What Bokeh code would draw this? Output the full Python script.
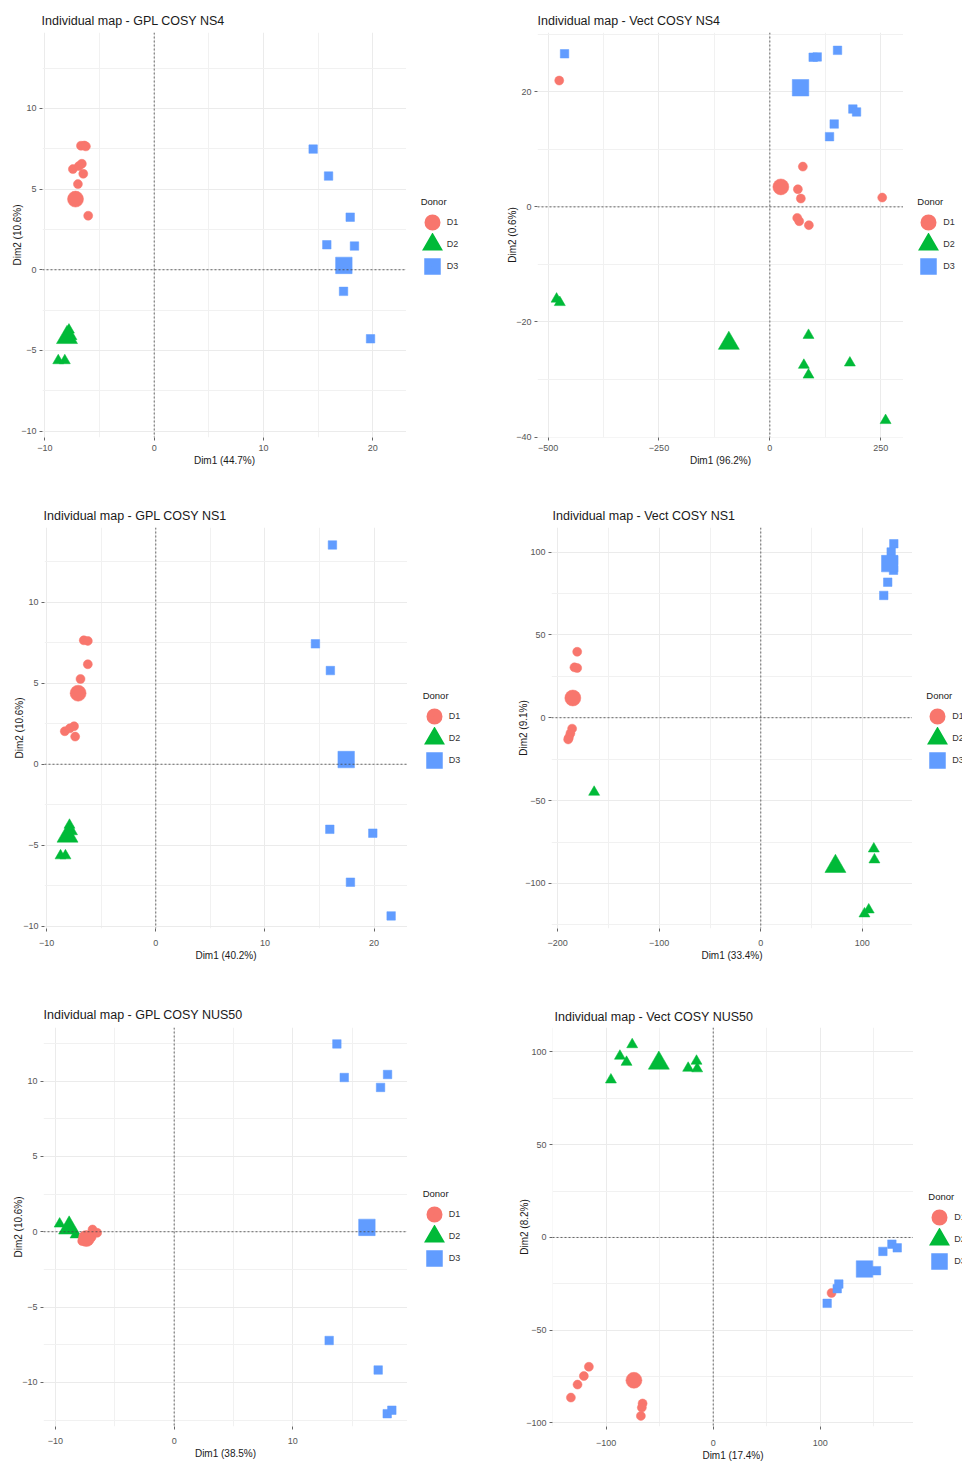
from bokeh.plotting import figure
from bokeh.models import Range1d, FixedTicker, Span, Legend, LegendItem
from bokeh.layouts import row, column
from bokeh.embed import file_html
from bokeh.resources import INLINE

FONT = "Liberation Sans"
D1_COLOR = "#F8766D"
D2_COLOR = "#00BA38"
D3_COLOR = "#619CFF"

# ---------------- GPL COSY NS4 ----------------
gpl_ns4_d1_x = [-6.7, -6.4, -6.25, -7.44, -6.89, -6.62, -6.49, -6.98, -6.04]
gpl_ns4_d1_y = [7.69, 7.70, 7.65, 6.24, 6.43, 6.57, 5.95, 5.31, 3.35]
gpl_ns4_d1_mean = (-7.2, 4.38)
gpl_ns4_d2_x = [-7.8, -7.57, -8.78, -8.18]
gpl_ns4_d2_y = [-3.73, -4.14, -5.63, -5.63]
gpl_ns4_d2_mean = (-7.98, -4.2)
gpl_ns4_d3_x = [14.54, 15.95, 17.93, 15.79, 18.32, 17.32, 19.79]
gpl_ns4_d3_y = [7.48, 5.81, 3.26, 1.55, 1.47, -1.34, -4.28]
gpl_ns4_d3_mean = (17.35, 0.27)

# ---------------- Vect COSY NS4 ----------------
vect_ns4_d1_x = [-475.0, 74.4, 63.2, 69.9, 253.4, 61.7, 66.2, 88.0]
vect_ns4_d1_y = [21.95, 7.0, 3.07, 1.45, 1.62, -1.91, -2.49, -3.18]
vect_ns4_d1_mean = (24.8, 3.47)
vect_ns4_d2_x = [-481.0, -473.7, 87.2, 76.7, 87.2, 180.5, 261.0]
vect_ns4_d2_y = [-16.0, -16.6, -22.3, -27.5, -29.2, -27.1, -37.1]
vect_ns4_d2_mean = (-92.5, -23.7)
vect_ns4_d3_x = [-463.0, 97.7, 106.8, 152.6, 187.2, 195.5, 145.1, 134.6]
vect_ns4_d3_y = [26.6, 26.0, 26.06, 27.2, 17.0, 16.5, 14.4, 12.2]
vect_ns4_d3_mean = (69.2, 20.7)

# ---------------- GPL COSY NS1 ----------------
gpl_ns1_d1_x = [-6.6, -6.23, -6.23, -6.9, -8.34, -7.88, -7.49, -7.39]
gpl_ns1_d1_y = [7.66, 7.62, 6.18, 5.27, 2.04, 2.22, 2.35, 1.71]
gpl_ns1_d1_mean = (-7.12, 4.39)
gpl_ns1_d2_x = [-7.91, -7.68, -8.73, -8.28]
gpl_ns1_d2_y = [-3.76, -4.16, -5.65, -5.65]
gpl_ns1_d2_mean = (-8.09, -4.44)
gpl_ns1_d3_x = [16.19, 14.63, 16.0, 15.95, 19.89, 17.84, 21.57]
gpl_ns1_d3_y = [13.55, 7.44, 5.79, -4.02, -4.26, -7.29, -9.37]
gpl_ns1_d3_mean = (17.45, 0.29)

# ---------------- Vect COSY NS1 ----------------
vect_ns1_d1_x = [-180.8, -183.5, -180.8, -185.8, -187.5, -189.0, -189.7]
vect_ns1_d1_y = [39.8, 30.4, 30.0, -6.6, -9.5, -12.0, -13.1]
vect_ns1_d1_mean = (-185.1, 11.9)
vect_ns1_d2_x = [-164.1, 111.3, 111.9, 106.3, 102.1]
vect_ns1_d2_y = [-44.9, -79.1, -85.7, -115.9, -118.3]
vect_ns1_d2_mean = (73.5, -89.7)
vect_ns1_d3_x = [131.0, 128.4, 130.7, 130.7, 125.0, 121.1]
vect_ns1_d3_y = [105.0, 100.0, 95.0, 89.0, 81.8, 73.8]
vect_ns1_d3_mean = (127.0, 93.0)

# ---------------- GPL COSY NUS50 ----------------
gpl_nus50_d1_x = [-7.75, -7.3, -6.95, -6.88, -6.49, -7.6]
gpl_nus50_d1_y = [-0.62, -0.55, -0.35, 0.15, -0.07, -0.3]
gpl_nus50_d1_mean = (-7.4, -0.45)
gpl_nus50_d2_x = [-9.65, -9.16, -8.31]
gpl_nus50_d2_y = [0.52, 0.11, -0.2]
gpl_nus50_d2_mean = (-8.85, 0.25)
gpl_nus50_d3_x = [13.71, 14.33, 17.98, 17.39, 13.06, 17.19, 17.95, 18.34]
gpl_nus50_d3_y = [12.47, 10.24, 10.44, 9.58, -7.22, -9.18, -12.08, -11.85]
gpl_nus50_d3_mean = (16.24, 0.29)

# ---------------- Vect COSY NUS50 ----------------
vect_nus50_d1_x = [-133.0, -126.8, -120.9, -116.2, -66.0, -66.7, -67.6, 110.6]
vect_nus50_d1_y = [-86.3, -79.3, -74.7, -69.7, -89.5, -91.7, -96.2, -29.9]
vect_nus50_d1_mean = (-74.1, -77.0)
vect_nus50_d2_x = [-75.7, -87.2, -81.0, -95.6, -23.4, -15.6, -15.0]
vect_nus50_d2_y = [104.0, 97.8, 94.5, 85.0, 91.3, 95.1, 91.0]
vect_nus50_d2_mean = (-50.8, 94.0)
vect_nus50_d3_x = [106.5, 115.9, 117.4, 152.6, 158.6, 167.0, 172.0]
vect_nus50_d3_y = [-35.5, -27.6, -25.1, -17.9, -7.5, -3.6, -5.6]
vect_nus50_d3_mean = (141.4, -17.0)

# ---------------- axis ticks ----------------
gpl_x_ticks = [-10, 0, 10, 20]
gpl_x_minor = [-5, 5, 15]
gpl_y_ticks = [-10, -5, 0, 5, 10]
gpl_y_minor = [-7.5, -2.5, 2.5, 7.5, 12.5]
vect_ns4_x_ticks = [-500, -250, 0, 250]
vect_ns4_x_minor = [-375, -125, 125]
vect_ns4_y_ticks = [-40, -20, 0, 20]
vect_ns4_y_minor = [-30, -10, 10, 30]
vect_ns1_x_ticks = [-200, -100, 0, 100]
vect_ns1_x_minor = [-150, -50, 50]
vect_ns1_y_ticks = [-100, -50, 0, 50, 100]
vect_ns1_y_minor = [-125, -75, -25, 25, 75]
nus50_x_ticks = [-10, 0, 10]
nus50_x_minor = [-5, 5, 15]
nus50_y_ticks = [-10, -5, 0, 5, 10]
nus50_y_minor = [-12.5, -7.5, -2.5, 2.5, 7.5, 12.5]
vect_nus50_x_ticks = [-100, 0, 100]
vect_nus50_x_minor = [-150, -50, 50, 150]
vect_nus50_y_ticks = [-100, -50, 0, 50, 100]
vect_nus50_y_minor = [-75, -25, 25, 75]

donor_labels = ["D1", "D2", "D3"]

# marker style per donor: (colour, marker, individual size, centroid size, legend stroke)
STYLE = {
    "D1": (D1_COLOR, "circle", 9, 16, 7.2),
    "D2": (D2_COLOR, "triangle", 11, 21, 7.0),
    "D3": (D3_COLOR, "square", 8.5, 16.5, 7.7),
}
DRAW_ORDER = ["D2", "D1", "D3"]


def make_panel(title, xlab, ylab, xr, yr, xt, xm, yt, ym, groups, means,
               width, height, border, legend_width, title_off, title_standoff,
               x_lab_standoff, x_title_standoff, y_title_standoff, legend_loc):
    left, top, bottom = border
    p = figure(width=width, height=height, x_range=Range1d(*xr), y_range=Range1d(*yr),
               output_backend="svg", toolbar_location=None, tools="",
               min_border_left=left, min_border_right=0,
               min_border_top=top, min_border_bottom=bottom,
               background_fill_color="white", border_fill_color="white",
               outline_line_color=None)
    p.title.text = title
    p.title.text_font = FONT
    p.title.text_font_size = "12.5px"
    p.title.text_font_style = "normal"
    p.title.text_color = "#1a1a1a"
    p.title.offset = title_off
    p.title.standoff = title_standoff

    xtk = FixedTicker(ticks=xt, minor_ticks=xm)
    ytk = FixedTicker(ticks=yt, minor_ticks=ym)
    p.xaxis.ticker = xtk
    p.yaxis.ticker = ytk
    p.xgrid.ticker = xtk
    p.ygrid.ticker = ytk
    for g in (p.xgrid[0], p.ygrid[0]):
        g.grid_line_color = "#ebebeb"
        g.grid_line_width = 1
        g.minor_grid_line_color = "#f1f1f1"
        g.minor_grid_line_width = 1

    for ax in (p.xaxis[0], p.yaxis[0]):
        ax.axis_line_color = None
        ax.major_tick_line_color = "#666666"
        ax.major_tick_out = 3
        ax.major_tick_in = 0
        ax.minor_tick_line_color = None
        ax.major_label_text_font = FONT
        ax.major_label_text_font_size = "9px"
        ax.major_label_text_color = "#555555"
        ax.axis_label_text_font = FONT
        ax.axis_label_text_font_size = "10px"
        ax.axis_label_text_font_style = "normal"
        ax.axis_label_text_color = "#1a1a1a"
    p.xaxis.axis_label = xlab
    p.yaxis.axis_label = ylab
    p.xaxis.major_label_standoff = x_lab_standoff
    p.yaxis.major_label_standoff = 2
    p.xaxis.axis_label_standoff = x_title_standoff
    p.yaxis.axis_label_standoff = y_title_standoff

    # reference lines through the origin
    for dim in ("width", "height"):
        p.add_layout(Span(location=0, dimension=dim, line_color="#444444",
                          line_width=0.8, line_dash="2 2"))

    for key in DRAW_ORDER:
        color, marker, small, big, _ = STYLE[key]
        xs, ys = groups[key]
        mx, my = means[key]
        p.scatter(xs, ys, marker=marker, size=small, fill_color=color,
                  line_color=color, line_width=0.5)
        p.scatter([mx], [my], marker=marker, size=big, fill_color=color,
                  line_color=color, line_width=0.5)

    # side strip carrying the "Donor" key
    side = figure(width=legend_width, height=height, output_backend="svg",
                  toolbar_location=None, tools="",
                  x_axis_location=None, y_axis_location=None,
                  min_border_left=0, min_border_right=0,
                  min_border_top=0, min_border_bottom=0,
                  background_fill_color="white", border_fill_color="white",
                  outline_line_color=None)
    side.grid.visible = False
    key_renderers = {}
    for key in donor_labels:
        color, marker, small, _, stroke = STYLE[key]
        xs, ys = groups[key]
        # hidden copy whose thick stroke gives the legend keys their size
        key_renderers[key] = side.scatter(xs, ys, marker=marker, size=small,
                                          fill_color=color, line_color=color,
                                          line_width=stroke, line_join="miter",
                                          visible=False)
    legend = Legend(
        items=[LegendItem(label=k, renderers=[key_renderers[k]]) for k in donor_labels],
        location=legend_loc, title="Donor",
        title_text_font=FONT, title_text_font_size="9.5px",
        title_text_font_style="normal", title_text_color="#1a1a1a",
        title_standoff=4,
        label_text_font=FONT, label_text_font_size="9px", label_text_color="#333333",
        glyph_width=22, glyph_height=22, label_height=22, label_standoff=4,
        spacing=0, padding=0, margin=0,
        background_fill_alpha=0, border_line_color=None,
    )
    side.add_layout(legend, "center")
    return p, side


def groups_of(d1x, d1y, d2x, d2y, d3x, d3y):
    return {"D1": (d1x, d1y), "D2": (d2x, d2y), "D3": (d3x, d3y)}


p1, s1 = make_panel(
    "Individual map - GPL COSY NS4", "Dim1 (44.7%)", "Dim2 (10.6%)",
    (-10.22, 23.08), (-10.4, 14.71), gpl_x_ticks, gpl_x_minor, gpl_y_ticks, gpl_y_minor,
    groups_of(gpl_ns4_d1_x, gpl_ns4_d1_y, gpl_ns4_d2_x, gpl_ns4_d2_y, gpl_ns4_d3_x, gpl_ns4_d3_y),
    {"D1": gpl_ns4_d1_mean, "D2": gpl_ns4_d2_mean, "D3": gpl_ns4_d3_mean},
    406, 490, (42, 32, 53), 75, -1, 9, 3, 1, -5, (14.7, 159.8))

p2, s2 = make_panel(
    "Individual map - Vect COSY NS4", "Dim1 (96.2%)", "Dim2 (0.6%)",
    (-524.0, 301.4), (-40.07, 30.3), vect_ns4_x_ticks, vect_ns4_x_minor,
    vect_ns4_y_ticks, vect_ns4_y_minor,
    groups_of(vect_ns4_d1_x, vect_ns4_d1_y, vect_ns4_d2_x, vect_ns4_d2_y, vect_ns4_d3_x, vect_ns4_d3_y),
    {"D1": vect_ns4_d1_mean, "D2": vect_ns4_d2_mean, "D3": vect_ns4_d3_mean},
    422, 490, (56, 32, 53), 59, 0, 9, 3, 1, -5, (14.3, 160.5))

p3, s3 = make_panel(
    "Individual map - GPL COSY NS1", "Dim1 (40.2%)", "Dim2 (10.6%)",
    (-10.2, 23.07), (-10.15, 14.63), gpl_x_ticks, gpl_x_minor, gpl_y_ticks, gpl_y_minor,
    groups_of(gpl_ns1_d1_x, gpl_ns1_d1_y, gpl_ns1_d2_x, gpl_ns1_d2_y, gpl_ns1_d3_x, gpl_ns1_d3_y),
    {"D1": gpl_ns1_d1_mean, "D2": gpl_ns1_d2_mean, "D3": gpl_ns1_d3_mean},
    407, 500, (44, 37, 62), 74, -1, 10, 7, 1, -5, (15.7, 156.8))

p4, s4 = make_panel(
    "Individual map - Vect COSY NS1", "Dim1 (33.4%)", "Dim2 (9.1%)",
    (-206.1, 149.4), (-127.2, 114.8), vect_ns1_x_ticks, vect_ns1_x_minor,
    vect_ns1_y_ticks, vect_ns1_y_minor,
    groups_of(vect_ns1_d1_x, vect_ns1_d1_y, vect_ns1_d2_x, vect_ns1_d2_y, vect_ns1_d3_x, vect_ns1_d3_y),
    {"D1": vect_ns1_d1_mean, "D2": vect_ns1_d2_mean, "D3": vect_ns1_d3_mean},
    431, 500, (70, 37, 62), 50, 1, 10, 7, 1, -7, (14.3, 156.8))

p5, s5 = make_panel(
    "Individual map - GPL COSY NUS50", "Dim1 (38.5%)", "Dim2 (10.6%)",
    (-11.01, 19.66), (-12.93, 13.56), nus50_x_ticks, nus50_x_minor, nus50_y_ticks, nus50_y_minor,
    groups_of(gpl_nus50_d1_x, gpl_nus50_d1_y, gpl_nus50_d2_x, gpl_nus50_d2_y,
              gpl_nus50_d3_x, gpl_nus50_d3_y),
    {"D1": gpl_nus50_d1_mean, "D2": gpl_nus50_d2_mean, "D3": gpl_nus50_d3_mean},
    407, 473, (43, 37, 36), 74, 0, 12, 7, 1, -5, (15.7, 157.2))

p6, s6 = make_panel(
    "Individual map - Vect COSY NUS50", "Dim1 (17.4%)", "Dim2 (8.2%)",
    (-150.2, 187.2), (-101.9, 113.2), vect_nus50_x_ticks, vect_nus50_x_minor,
    vect_nus50_y_ticks, vect_nus50_y_minor,
    groups_of(vect_nus50_d1_x, vect_nus50_d1_y, vect_nus50_d2_x, vect_nus50_d2_y,
              vect_nus50_d3_x, vect_nus50_d3_y),
    {"D1": vect_nus50_d1_mean, "D2": vect_nus50_d2_mean, "D3": vect_nus50_d3_mean},
    432, 473, (71, 37, 36), 49, 2, 8, 9, 1, -7, (15.3, 154.5))

layout = column(row(p1, s1, p2, s2), row(p3, s3, p4, s4), row(p5, s5, p6, s6))
open("out.html", "w").write(file_html(layout, INLINE))
